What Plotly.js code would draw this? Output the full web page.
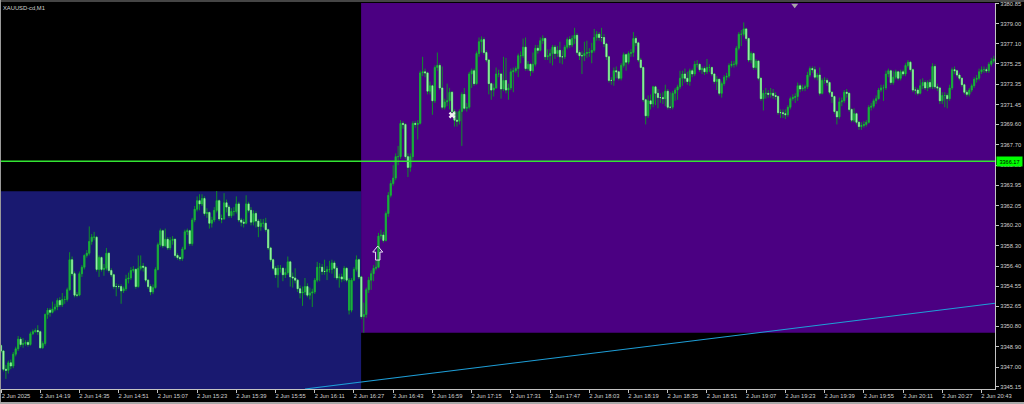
<!DOCTYPE html>
<html><head><meta charset="utf-8">
<script src="https://cdn.plot.ly/plotly-3.0.1.min.js"></script>
<style>html,body{margin:0;padding:0;background:#000;overflow:hidden}#c{width:1024px;height:404px}
.s{position:absolute}</style></head><body>
<div id="c"></div>
<div class="s" style="left:0;top:0;width:1024px;height:2px;background:#454545"></div>
<div class="s" style="left:0;top:0;width:1px;height:402px;background:#9a9a9a"></div>
<div class="s" style="left:0;top:402px;width:1024px;height:2px;background:#a8a8a8"></div>
<script>
const closes=[3348.5,3346.8,3346.7,3347.4,3347.1,3348.2,3348.7,3349.6,3349.1,3349.2,
3349.3,3349.1,3350.1,3350.3,3350.4,3350.3,3348.8,3349.2,3351.9,3352.3,
3352.1,3352.4,3352.6,3353.2,3352.8,3353.3,3353.3,3354.2,3357.0,3355.7,
3353.7,3353.7,3355.7,3356.3,3357.4,3357.6,3358.7,3359.1,3359.1,3356.1,
3357.2,3356.1,3356.2,3357.6,3356.0,3355.6,3354.5,3354.5,3354.5,3354.1,
3354.3,3355.2,3355.3,3356.0,3356.1,3354.5,3356.2,3356.4,3356.3,3355.1,
3354.5,3354.0,3354.4,3356.1,3358.4,3359.7,3358.3,3358.9,3358.1,3358.8,
3358.9,3357.4,3357.2,3357.1,3358.0,3359.6,3359.7,3358.5,3360.7,3361.7,
3362.5,3362.2,3362.7,3361.3,3361.4,3360.4,3360.7,3361.6,3362.5,3360.8,
3360.8,3362.3,3361.9,3361.1,3361.5,3361.5,3362.2,3360.7,3360.5,3360.4,
3362.2,3361.6,3360.5,3361.3,3360.6,3360.1,3360.4,3360.4,3359.8,3358.1,
3357.0,3356.2,3355.6,3356.2,3356.2,3355.6,3355.8,3356.8,3355.4,3355.3,
3355.1,3354.3,3353.9,3354.0,3354.5,3353.7,3353.9,3354.0,3355.1,3356.3,
3356.3,3355.9,3355.9,3356.1,3356.1,3356.7,3356.2,3355.3,3355.4,3355.2,
3356.2,3355.1,3355.1,3355.1,3356.1,3357.0,3355.4,3351.7,3351.9,3354.2,
3355.1,3355.7,3356.2,3356.3,3359.2,3359.3,3358.8,3361.3,3363.0,3364.1,
3364.6,3366.6,3366.6,3369.7,3369.6,3366.6,3365.6,3366.6,3369.7,3369.6,
3369.7,3374.4,3374.5,3374.4,3372.7,3373.2,3371.8,3374.9,3375.1,3373.0,
3371.2,3371.7,3371.8,3372.6,3370.8,3370.0,3369.9,3370.8,3372.4,3371.1,
3371.2,3374.3,3374.6,3373.4,3376.2,3377.3,3377.5,3376.3,3375.6,3373.4,
3372.8,3373.0,3374.3,3374.3,3372.9,3373.7,3372.8,3373.0,3374.5,3374.6,
3374.8,3376.0,3376.0,3376.8,3374.8,3375.2,3374.6,3375.2,3376.7,3376.5,
3377.4,3377.6,3375.9,3376.0,3376.2,3376.8,3376.2,3376.5,3375.9,3375.9,
3376.8,3377.5,3377.0,3377.6,3377.9,3376.3,3376.0,3376.0,3376.2,3376.3,
3376.3,3376.5,3377.7,3378.0,3377.7,3377.7,3377.1,3375.9,3373.7,3373.7,
3374.6,3374.5,3373.9,3375.1,3376.1,3375.4,3376.2,3376.3,3377.6,3377.2,
3375.6,3374.9,3371.9,3370.4,3371.8,3371.5,3373.1,3372.5,3372.1,3372.1,
3372.0,3372.7,3371.2,3371.2,3372.5,3372.8,3373.1,3373.9,3374.3,3373.9,
3373.6,3374.6,3374.3,3375.2,3375.2,3374.7,3374.8,3374.5,3374.9,3374.9,
3374.3,3373.6,3373.8,3372.5,3373.4,3374.0,3374.1,3375.1,3375.2,3375.2,
3376.7,3378.0,3378.0,3378.5,3377.6,3375.6,3376.2,3374.9,3375.5,3373.9,
3372.0,3372.5,3372.5,3372.4,3372.5,3372.3,3372.2,3370.7,3370.7,3370.6,
3370.5,3371.2,3372.0,3372.1,3372.2,3373.2,3372.9,3373.0,3373.1,3374.2,
3374.8,3374.7,3374.0,3374.2,3372.5,3373.7,3373.7,3373.5,3372.6,3372.2,
3370.8,3370.3,3371.7,3371.8,3372.6,3372.5,3371.0,3370.0,3370.6,3369.8,
3369.4,3369.5,3369.6,3369.8,3371.2,3371.3,3371.8,3372.0,3372.8,3373.0,
3373.0,3374.3,3374.6,3373.5,3374.0,3374.5,3373.9,3374.5,3374.3,3375.1,
3375.4,3374.7,3372.8,3372.8,3372.5,3373.2,3373.5,3373.0,3373.5,3373.1,
3375.0,3373.1,3373.0,3371.8,3372.3,3372.3,3372.0,3373.0,3374.7,3374.6,
3374.2,3373.9,3373.3,3372.6,3372.4,3372.8,3373.2,3373.8,3373.9,3374.5,
3374.7,3374.7,3374.6,3375.2,3375.5,3375.7];
const opens=[3349.0,3348.5,3346.8,3346.7,3347.4,3347.1,3348.2,3348.7,3349.6,3349.1,
3349.2,3349.3,3349.1,3350.1,3350.3,3350.4,3350.3,3348.8,3349.2,3351.9,
3352.3,3352.1,3352.4,3352.6,3353.2,3352.8,3353.3,3353.3,3354.2,3357.0,
3355.7,3353.7,3353.7,3355.7,3356.3,3357.4,3357.6,3358.7,3359.1,3359.1,
3356.1,3357.2,3356.1,3356.2,3357.6,3356.0,3355.6,3354.5,3354.5,3354.5,
3354.1,3354.3,3355.2,3355.3,3356.0,3356.1,3354.5,3356.2,3356.4,3356.3,
3355.1,3354.5,3354.0,3354.4,3356.1,3358.4,3359.7,3358.3,3358.9,3358.1,
3358.8,3358.9,3357.4,3357.2,3357.1,3358.0,3359.6,3359.7,3358.5,3360.7,
3361.7,3362.5,3362.2,3362.7,3361.3,3361.4,3360.4,3360.7,3361.6,3362.5,
3360.8,3360.8,3362.3,3361.9,3361.1,3361.5,3361.5,3362.2,3360.7,3360.5,
3360.4,3362.2,3361.6,3360.5,3361.3,3360.6,3360.1,3360.4,3360.4,3359.8,
3358.1,3357.0,3356.2,3355.6,3356.2,3356.2,3355.6,3355.8,3356.8,3355.4,
3355.3,3355.1,3354.3,3353.9,3354.0,3354.5,3353.7,3353.9,3354.0,3355.1,
3356.3,3356.3,3355.9,3355.9,3356.1,3356.1,3356.7,3356.2,3355.3,3355.4,
3355.2,3356.2,3352.3,3352.3,3355.1,3356.1,3357.0,3355.4,3351.7,3351.9,
3354.2,3355.1,3355.7,3356.2,3356.3,3359.2,3359.3,3358.8,3361.3,3363.0,
3364.1,3364.6,3366.6,3366.6,3369.7,3369.6,3366.6,3365.6,3366.6,3369.7,
3369.6,3369.7,3374.4,3374.5,3374.4,3372.7,3373.2,3371.8,3374.9,3375.1,
3373.0,3371.2,3371.7,3371.8,3372.6,3370.8,3370.0,3369.9,3370.8,3372.4,
3371.1,3371.2,3374.3,3374.6,3373.4,3376.2,3377.3,3377.5,3376.3,3375.6,
3373.4,3372.8,3373.0,3374.3,3374.3,3372.9,3373.7,3372.8,3373.0,3374.5,
3374.6,3374.8,3376.0,3376.0,3376.8,3374.8,3375.2,3374.6,3375.2,3376.7,
3376.5,3377.4,3377.6,3375.9,3376.0,3376.2,3376.8,3376.2,3376.5,3375.9,
3375.9,3376.8,3377.5,3377.0,3377.6,3377.9,3376.3,3376.0,3376.0,3376.2,
3376.3,3376.3,3376.5,3377.7,3378.0,3377.7,3377.7,3377.1,3375.9,3373.7,
3373.7,3374.6,3374.5,3373.9,3375.1,3376.1,3375.4,3376.2,3376.3,3377.6,
3377.2,3375.6,3374.9,3371.9,3370.4,3371.8,3371.5,3373.1,3372.5,3372.1,
3372.1,3372.0,3372.7,3371.2,3371.2,3372.5,3372.8,3373.1,3373.9,3374.3,
3373.9,3373.6,3374.6,3374.3,3375.2,3375.2,3374.7,3374.8,3374.5,3374.9,
3374.9,3374.3,3373.6,3373.8,3372.5,3373.4,3374.0,3374.1,3375.1,3375.2,
3375.2,3376.7,3378.0,3378.0,3378.5,3377.6,3375.6,3376.2,3374.9,3375.5,
3373.9,3372.0,3372.5,3372.5,3372.4,3372.5,3372.3,3372.2,3370.7,3370.7,
3370.6,3370.5,3371.2,3372.0,3372.1,3372.2,3373.2,3372.9,3373.0,3373.1,
3374.2,3374.8,3374.7,3374.0,3374.2,3372.5,3373.7,3373.7,3373.5,3372.6,
3372.2,3370.8,3370.3,3371.7,3371.8,3372.6,3372.5,3371.0,3370.0,3370.6,
3369.8,3369.4,3369.5,3369.6,3369.8,3371.2,3371.3,3371.8,3372.0,3372.8,
3373.0,3373.0,3374.3,3374.6,3373.5,3374.0,3374.5,3373.9,3374.5,3374.3,
3375.1,3375.4,3374.7,3372.8,3372.8,3372.5,3373.2,3373.5,3373.0,3373.5,
3373.1,3375.0,3373.1,3373.0,3371.8,3372.3,3372.3,3372.0,3373.0,3374.7,
3374.6,3374.2,3373.9,3373.3,3372.6,3372.4,3372.8,3373.2,3373.8,3373.9,
3374.5,3374.7,3374.7,3374.6,3375.2,3375.5];
const highs=[3349.1,3348.6,3347.2,3347.6,3347.7,3348.4,3348.9,3349.9,3349.8,3349.7,
3349.5,3349.5,3350.3,3350.5,3350.6,3350.9,3350.4,3349.4,3352.0,3352.5,
3352.5,3353.1,3352.9,3353.4,3353.5,3353.9,3353.6,3354.4,3357.7,3357.3,
3355.9,3354.0,3355.9,3356.5,3357.5,3357.9,3360.1,3359.4,3359.6,3359.2,
3357.4,3357.3,3356.6,3358.1,3357.7,3356.2,3355.7,3354.8,3354.7,3354.7,
3354.5,3355.6,3355.8,3356.3,3356.4,3356.2,3357.4,3357.4,3356.7,3356.4,
3355.2,3354.7,3354.7,3356.3,3358.6,3359.9,3359.8,3359.9,3359.1,3359.1,
3359.2,3359.0,3357.6,3357.4,3358.2,3359.8,3359.9,3359.8,3360.9,3362.0,
3362.9,3363.1,3363.1,3362.9,3361.8,3361.5,3361.0,3361.9,3363.4,3362.6,
3361.2,3363.2,3362.6,3362.1,3361.8,3361.9,3362.9,3362.4,3360.9,3360.8,
3363.0,3362.4,3361.9,3361.6,3361.5,3360.8,3360.8,3360.8,3360.9,3359.9,
3358.2,3357.1,3356.4,3356.5,3356.5,3356.3,3356.2,3357.3,3356.9,3355.8,
3356.2,3355.2,3354.6,3354.5,3355.3,3354.8,3354.4,3354.3,3355.3,3356.8,
3356.7,3356.6,3357.0,3356.4,3356.9,3357.0,3356.9,3356.4,3355.7,3355.7,
3356.4,3356.3,3355.3,3355.3,3356.3,3357.4,3357.1,3355.5,3353.0,3354.4,
3355.4,3356.0,3356.5,3356.9,3359.5,3359.8,3359.6,3361.5,3363.3,3364.4,
3365.8,3366.9,3367.6,3370.0,3369.9,3369.7,3366.9,3366.9,3369.9,3369.9,
3370.0,3374.6,3375.9,3374.8,3374.5,3373.6,3373.3,3375.1,3376.3,3375.3,
3375.0,3372.0,3373.4,3373.0,3372.7,3371.0,3370.8,3371.0,3372.6,3373.0,
3371.6,3374.5,3374.8,3374.8,3376.4,3377.7,3377.8,3377.7,3376.5,3375.7,
3373.5,3373.4,3374.9,3374.7,3374.4,3375.9,3375.8,3373.4,3374.8,3374.9,
3375.0,3376.2,3376.4,3377.6,3377.7,3375.5,3375.3,3376.3,3377.0,3377.0,
3377.7,3377.9,3377.7,3376.6,3376.6,3377.0,3377.0,3376.9,3377.3,3376.5,
3377.0,3377.7,3377.8,3377.9,3378.6,3378.1,3376.5,3376.4,3377.3,3377.4,
3376.7,3377.2,3378.5,3378.3,3378.2,3378.6,3378.0,3377.2,3376.0,3374.0,
3374.9,3375.0,3374.6,3375.3,3376.3,3376.2,3376.4,3376.6,3378.2,3377.8,
3377.3,3375.8,3375.0,3372.0,3372.3,3372.4,3373.2,3373.2,3372.9,3372.5,
3372.6,3373.3,3372.9,3372.6,3372.7,3373.0,3373.3,3374.6,3374.6,3374.8,
3374.5,3374.8,3374.8,3375.5,3375.6,3375.3,3375.0,3375.0,3375.7,3375.2,
3375.0,3374.4,3374.1,3373.9,3373.6,3374.2,3374.4,3375.3,3375.5,3375.5,
3376.9,3378.2,3378.4,3379.1,3378.6,3377.7,3376.4,3376.3,3375.7,3375.6,
3374.0,3372.8,3373.0,3372.8,3373.0,3372.9,3372.6,3372.3,3371.0,3371.0,
3371.0,3371.4,3372.2,3372.4,3372.5,3373.5,3373.4,3373.3,3373.3,3374.5,
3375.0,3375.0,3375.0,3374.4,3374.9,3373.9,3374.0,3373.9,3373.6,3372.7,
3372.3,3370.9,3372.1,3372.1,3372.8,3372.9,3372.6,3371.1,3371.1,3370.7,
3369.9,3369.8,3369.9,3370.0,3371.4,3371.6,3372.0,3372.3,3373.0,3373.3,
3373.3,3374.6,3374.8,3374.7,3374.6,3374.7,3374.6,3374.7,3374.7,3375.3,
3375.6,3375.5,3374.8,3373.1,3373.0,3373.8,3373.9,3373.7,3373.7,3373.8,
3375.3,3375.2,3373.4,3373.1,3372.6,3372.6,3372.5,3373.3,3374.9,3375.0,
3374.7,3374.4,3374.0,3373.4,3372.8,3373.0,3373.4,3374.0,3374.2,3374.8,
3375.0,3375.0,3374.9,3375.4,3375.8,3376.0];
const lows=[3348.3,3346.6,3345.9,3346.4,3346.8,3346.9,3348.0,3348.5,3348.9,3348.8,
3349.0,3348.9,3349.0,3350.0,3350.2,3350.0,3348.7,3348.7,3349.0,3351.5,
3351.7,3352.0,3352.2,3352.3,3352.6,3352.6,3352.9,3353.1,3354.1,3355.5,
3353.5,3353.5,3353.6,3355.4,3356.1,3357.2,3357.4,3358.4,3358.8,3355.9,
3355.4,3355.9,3355.5,3356.0,3355.8,3355.4,3354.3,3353.6,3354.3,3352.9,
3353.9,3354.1,3354.8,3355.1,3355.8,3354.3,3354.4,3356.0,3355.9,3354.9,
3354.3,3353.7,3353.8,3354.3,3356.0,3358.2,3358.1,3358.2,3357.9,3357.9,
3358.4,3357.2,3357.0,3356.9,3356.9,3357.9,3359.3,3358.3,3358.3,3360.5,
3361.5,3361.6,3362.0,3361.1,3360.9,3359.9,3360.0,3360.5,3361.4,3360.6,
3360.4,3360.7,3361.4,3360.9,3360.9,3361.1,3361.3,3360.5,3360.1,3360.0,
3360.3,3361.4,3360.2,3360.2,3360.0,3359.1,3359.7,3360.0,3359.6,3357.9,
3356.8,3356.0,3355.3,3354.4,3355.8,3355.0,3355.3,3355.6,3354.5,3354.4,
3354.8,3354.0,3353.4,3352.7,3353.7,3353.5,3353.3,3352.6,3353.8,3354.9,
3355.0,3355.6,3355.6,3355.1,3355.8,3355.7,3355.3,3355.1,3354.4,3354.9,
3355.0,3354.9,3351.9,3352.1,3355.0,3355.9,3355.2,3351.5,3350.2,3351.6,
3353.9,3354.2,3355.0,3356.0,3356.2,3358.9,3358.6,3358.7,3361.0,3362.8,
3363.9,3364.4,3365.8,3366.4,3369.2,3366.4,3364.7,3365.2,3366.3,3369.3,
3368.2,3369.6,3374.1,3374.0,3372.4,3372.4,3370.5,3371.6,3374.6,3372.8,
3371.0,3371.0,3371.3,3371.0,3370.6,3369.4,3369.4,3369.6,3367.6,3370.9,
3370.8,3371.0,3373.0,3373.2,3373.3,3375.9,3376.3,3376.1,3375.4,3372.4,
3371.9,3372.2,3372.9,3374.0,3372.0,3372.7,3372.5,3371.9,3372.8,3372.6,
3374.4,3374.0,3375.3,3375.8,3374.6,3374.6,3374.1,3374.4,3375.0,3376.2,
3376.4,3377.1,3375.6,3375.6,3375.3,3375.1,3375.7,3375.9,3375.3,3375.2,
3375.7,3376.6,3376.7,3376.8,3377.1,3376.1,3375.6,3374.3,3375.5,3375.8,
3375.9,3375.3,3376.3,3377.4,3377.4,3377.3,3376.8,3375.6,3373.5,3373.3,
3373.2,3373.9,3373.7,3373.7,3374.9,3374.6,3375.2,3375.9,3375.9,3376.9,
3375.4,3374.7,3371.7,3369.6,3370.2,3371.0,3371.2,3371.4,3371.1,3371.6,
3371.5,3371.3,3371.0,3371.0,3371.0,3371.8,3371.9,3372.9,3373.2,3373.5,
3373.3,3373.2,3374.0,3374.1,3374.9,3374.5,3374.3,3374.2,3374.3,3374.5,
3374.1,3373.4,3372.8,3372.3,3372.1,3373.2,3373.7,3373.9,3374.9,3374.9,
3375.0,3376.5,3376.9,3377.8,3377.4,3375.4,3375.3,3374.7,3374.7,3373.7,
3371.8,3370.9,3372.0,3372.1,3372.1,3372.0,3371.9,3370.5,3370.2,3370.2,
3370.1,3370.3,3371.0,3371.8,3371.6,3371.8,3372.6,3372.7,3372.7,3372.9,
3374.0,3374.4,3373.8,3373.7,3372.3,3372.4,3373.4,3373.2,3372.4,3371.6,
3370.6,3369.6,3370.1,3371.3,3371.6,3372.1,3370.8,3369.8,3369.8,3369.6,
3369.1,3369.1,3369.3,3369.4,3369.7,3370.9,3371.1,3371.5,3371.9,3372.6,
3371.8,3372.8,3374.0,3373.3,3373.3,3373.8,3373.7,3373.7,3374.1,3374.1,
3374.9,3374.5,3372.6,3372.4,3372.3,3372.4,3372.9,3372.8,3372.7,3372.9,
3372.9,3372.9,3372.7,3371.5,3371.5,3371.2,3371.1,3371.8,3372.8,3374.3,
3374.0,3373.7,3373.1,3372.4,3372.2,3372.2,3372.6,3373.0,3373.5,3373.7,
3374.3,3374.4,3374.4,3374.4,3375.0,3375.3];
const yTickVals=[3380.85,3379.00,3377.10,3375.25,3373.35,3371.45,3369.60,3367.70,3365.80,3363.95,3362.05,3360.20,3358.30,3356.40,3354.55,3352.65,3350.80,3348.90,3347.00,3345.15];
const xTickText=["2 Jun 2025","2 Jun 14:19","2 Jun 14:35","2 Jun 14:51","2 Jun 15:07","2 Jun 15:23","2 Jun 15:39","2 Jun 15:55","2 Jun 16:11","2 Jun 16:27","2 Jun 16:43","2 Jun 16:59","2 Jun 17:15","2 Jun 17:31","2 Jun 17:47","2 Jun 18:03","2 Jun 18:19","2 Jun 18:35","2 Jun 18:51","2 Jun 19:07","2 Jun 19:23","2 Jun 19:39","2 Jun 19:55","2 Jun 20:11","2 Jun 20:27","2 Jun 20:43"];
const xTickVals=xTickText.map((_,k)=>k*16);
const bars=closes.map((_,i)=>i);
const bodyTop=closes.map((c,i)=>Math.max(c,opens[i]));
const bodyBot=closes.map((c,i)=>Math.min(c,opens[i]));
const bidLine=3366.17;
const lastBar=405.5;
const boxSplit=146.9, yMin=3344.96, yMax=3380.91;
const navyTop=3363.38, purpleBottom=3350.2;
const trendStart=[124,3344.96], trendEnd=[lastBar,3352.94];
const arrowAt=[153.7,3357.62], crossAt=[184,3370.47], markAt=[323.8,3380.7];
const fontFam='"Liberation Sans",Arial,sans-serif', txt='#d0d0d0', axis='#c4c4c4';
const wickC='#0f8f2a';
const traces=[{type:'candlestick',x:bars,open:opens,high:highs,low:lows,close:closes,
  increasing:{line:{color:wickC,width:1},fillcolor:'#12a236'},
  decreasing:{line:{color:wickC,width:1},fillcolor:'#3ec85a'},
  whiskerwidth:0,width:1.0,hoverinfo:'skip',showlegend:false},
 {type:'candlestick',x:bars,open:opens,high:bodyTop,low:bodyBot,close:closes,
  increasing:{line:{color:'#1cb040',width:0.5},fillcolor:'#1cb040'},
  decreasing:{line:{color:'#8cf09c',width:0.6},fillcolor:'#a0f4ae'},
  whiskerwidth:0,width:0.2,hoverinfo:'skip',showlegend:false},
 {type:'scatter',mode:'markers',x:[crossAt[0]],y:[crossAt[1]],marker:{symbol:'x',size:6,color:'#f0f0f0',line:{width:0}},hoverinfo:'skip',showlegend:false},
 {type:'scatter',mode:'markers',x:[markAt[0]],y:[markAt[1]],marker:{symbol:'triangle-down',size:6,color:'#a8a8a8',line:{width:0}},hoverinfo:'skip',showlegend:false,cliponaxis:false}];
const layout={width:1024,height:404,margin:{l:1,r:28.5,t:3,b:15,pad:0},paper_bgcolor:'#000',plot_bgcolor:'#000',showlegend:false,
 font:{family:fontFam,size:5.8,color:txt},
 xaxis:{type:'linear',range:[0,lastBar],rangeslider:{visible:false},showgrid:false,zeroline:false,tickmode:'array',tickvals:xTickVals,ticktext:xTickText,
   tickfont:{family:fontFam,size:5.8,color:txt},tickangle:0,ticks:'outside',ticklen:3,tickcolor:axis,tickwidth:1,ticklabelshift:15,ticklabelstandoff:-2,showline:true,linecolor:axis,linewidth:1},
 yaxis:{type:'linear',side:'right',range:[yMin,yMax],showgrid:false,zeroline:false,tickmode:'array',tickvals:yTickVals,ticktext:yTickVals.map(v=>v.toFixed(2)),
   tickfont:{family:fontFam,size:5.8,color:txt},ticks:'outside',ticklen:3,tickcolor:axis,tickwidth:1,showline:true,linecolor:axis,linewidth:1},
 shapes:[
  {type:'rect',layer:'below',xref:'x',yref:'y',x0:0,x1:boxSplit,y0:yMin,y1:navyTop,fillcolor:'#191970',line:{width:0}},
  {type:'rect',layer:'below',xref:'x',yref:'y',x0:boxSplit,x1:lastBar,y0:purpleBottom,y1:yMax,fillcolor:'#4b0082',line:{width:0}},
  {type:'line',layer:'below',xref:'x',yref:'y',x0:trendStart[0],y0:trendStart[1],x1:trendEnd[0],y1:trendEnd[1],line:{color:'#1e9fd8',width:1.1}},
  {type:'line',layer:'above',xref:'x',yref:'y',x0:0,x1:lastBar,y0:bidLine,y1:bidLine,line:{color:'#33e533',width:1.3}},
  {type:'path',layer:'above',xref:'x',yref:'y',xsizemode:'pixel',ysizemode:'pixel',xanchor:arrowAt[0],yanchor:arrowAt[1],
   path:'M0,7 L5,1 L2.2,1 L2.2,-7 L-2.2,-7 L-2.2,1 L-5,1 Z',line:{color:'#e8e4f4',width:1},fillcolor:'rgba(0,0,0,0)'}],
 annotations:[
  {xref:'paper',yref:'paper',x:0.0005,y:1.0,xanchor:'left',yanchor:'top',text:'XAUUSD-cd,M1',showarrow:false,font:{family:fontFam,size:5.8,color:'#d0d0d0'},bgcolor:'rgba(0,0,0,0)'},
  {xref:'paper',yref:'y',x:1.0015,xanchor:'left',y:bidLine,yanchor:'middle',text:bidLine.toFixed(2),showarrow:false,font:{family:fontFam,size:5.6,color:'#000'},bgcolor:'#00ff00',borderpad:1.5,width:22,align:'center'}]};
Plotly.newPlot('c',traces,layout,{displayModeBar:false,staticPlot:true});
</script></body></html>
